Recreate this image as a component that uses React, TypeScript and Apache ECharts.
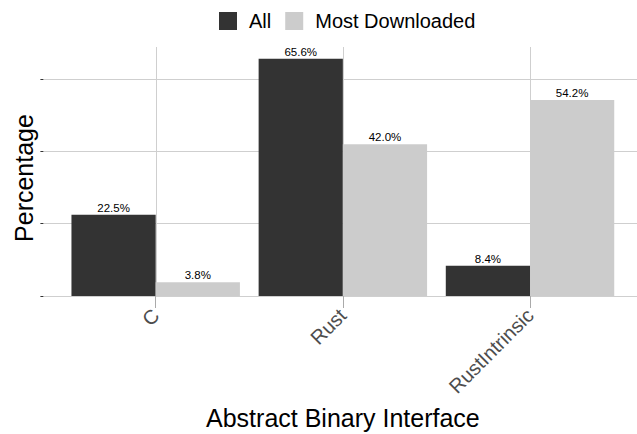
import React, { useEffect, useRef } from "react";
import * as echarts from "echarts";

const categories = ["C", "Rust", "RustIntrinsic"];
const allValues = [22.5, 65.6, 8.4];
const mostDownloadedValues = [3.8, 42.0, 54.2];
const seriesNames = ["All", "Most Downloaded"];
const yTickMin = 0;
const yTickMax = 60;
const yTickStep = 20;

const FONT = "'Liberation Sans', Arial, Helvetica, sans-serif";

export default function App() {
  const ref = useRef<HTMLDivElement>(null);
  useEffect(() => {
    if (!ref.current) return;
    const chart = echarts.init(ref.current, undefined, { renderer: "svg" });
    const dataMax = Math.max(...allValues, ...mostDownloadedValues);
    const yMax = dataMax * 1.05;
    const panelTop = 47;
    const panelBottom = 138; // from bottom of canvas: 434 - 296
    const plotH = 434 - panelTop - panelBottom;
    const pxPerUnit = plotH / yMax;
    const gridTop0 = 434 - panelBottom - yTickMax * pxPerUnit;

    const gridColor = "#cfcfcf";
    const labelFmt = (p: any) => p.value.toFixed(1) + "%";
    const option: any = {
      animation: false,
      backgroundColor: "#ffffff",
      textStyle: { fontFamily: FONT },
      legend: {
        data: seriesNames,
        left: 219,
        top: 11,
        padding: 0,
        itemWidth: 18,
        itemHeight: 18,
        itemGap: 14,
        icon: "rect",
        textStyle: { fontSize: 20, color: "#000", fontFamily: FONT, padding: [0, 0, 0, 7] },
      },
      grid: [
        { left: 43.4, right: -5.4, top: gridTop0, bottom: panelBottom, containLabel: false },
        { left: 62.1, right: 13.4, top: panelTop, bottom: panelBottom, containLabel: false },
        { left: 155.75, right: 107, top: panelTop, bottom: panelBottom, containLabel: false },
      ],
      xAxis: [
        { gridIndex: 0, type: "value", show: false, min: 0, max: 1 },
        {
          gridIndex: 1,
          type: "category",
          data: categories,
          axisLine: { show: false },
          axisTick: { show: true, alignWithLabel: true, length: 12, lineStyle: { color: "#aaaaaa" } },
          axisLabel: {
            rotate: 45,
            fontSize: 20,
            color: "#4d4d4d",
            fontFamily: FONT,
            margin: 16,
          },
          splitLine: { show: false },
        },
        {
          gridIndex: 2,
          type: "value",
          min: 0,
          max: 2,
          interval: 1,
          axisLine: { show: false },
          axisTick: { show: false },
          axisLabel: { show: false },
          splitLine: { show: true, lineStyle: { color: gridColor, width: 1 } },
        },
      ],
      yAxis: [
        {
          gridIndex: 0,
          type: "value",
          min: yTickMin,
          max: yTickMax,
          interval: yTickStep,
          axisLine: { show: false },
          axisTick: { show: true, length: 3, lineStyle: { color: "#333333" } },
          axisLabel: { show: false },
          splitLine: { show: true, lineStyle: { color: gridColor, width: 1 } },
        },
        { gridIndex: 1, type: "value", min: 0, max: yMax, show: false },
        { gridIndex: 2, type: "value", min: 0, max: 1, show: false },
      ],
      series: [
        {
          name: seriesNames[0],
          type: "bar",
          xAxisIndex: 1,
          yAxisIndex: 1,
          data: allValues,
          barWidth: "45%",
          barGap: "0%",
          itemStyle: { color: "#333333" },
          label: {
            show: true,
            position: "top",
            distance: 1,
            fontSize: 11.5,
            color: "#000",
            fontFamily: FONT,
            formatter: labelFmt,
          },
        },
        {
          name: seriesNames[1],
          type: "bar",
          xAxisIndex: 1,
          yAxisIndex: 1,
          data: mostDownloadedValues,
          barWidth: "45%",
          barGap: "0%",
          itemStyle: { color: "#cccccc" },
          label: {
            show: true,
            position: "top",
            distance: 1,
            fontSize: 11.5,
            color: "#000",
            fontFamily: FONT,
            formatter: labelFmt,
          },
        },
      ],
      graphic: [
        {
          type: "text",
          x: 24,
          y: 178,
          rotation: Math.PI / 2,
          style: {
            text: "Percentage",
            fontSize: 25,
            fontFamily: FONT,
            fill: "#000",
            textAlign: "center",
            textVerticalAlign: "middle",
          },
        },
        {
          type: "text",
          x: 342.9,
          y: 418,
          style: {
            text: "Abstract Binary Interface",
            fontSize: 25,
            fontFamily: FONT,
            fill: "#000",
            textAlign: "center",
            textVerticalAlign: "middle",
          },
        },
      ],
    };
    chart.setOption(option);
    return () => chart.dispose();
  }, []);
  return (
    <div
      ref={ref}
      style={{ position: "fixed", left: 0, top: 0, width: 637, height: 434, background: "#fff" }}
    />
  );
}
